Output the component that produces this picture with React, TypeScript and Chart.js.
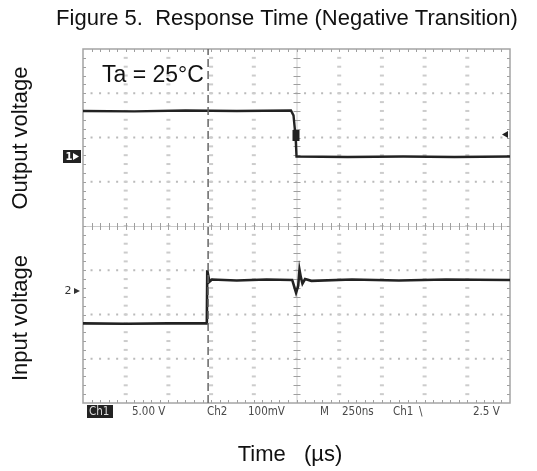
import React, { useEffect, useRef } from "react";
import { Chart, registerables } from "chart.js";

Chart.register(...registerables);

// Time axis in scope divisions (250 ns/div, 10 divisions)
const outputTime = [0, 1.2, 2.4, 3.6, 4.87, 4.93, 4.98, 5.0, 6.2, 7.5, 8.7, 10];
// Output voltage trace, in divisions from screen centre (Ch1 5.00 V/div)
const outputLevel = [2.6, 2.59, 2.61, 2.6, 2.61, 2.5, 2.0, 1.57, 1.56, 1.57, 1.56, 1.57];

const inputTime = [0, 1.0, 2.0, 2.9, 2.91, 2.96, 3.02, 3.6, 4.3, 4.9, 4.95, 4.99, 5.04, 5.07, 5.1, 5.14, 5.2, 5.35, 6.3, 7.4, 8.5, 10];
// Input voltage trace, in divisions from screen centre (Ch2 100 mV/div)
const inputLevel = [-2.2, -2.21, -2.2, -2.2, -1.0, -1.26, -1.21, -1.23, -1.21, -1.22, -1.38, -1.51, -1.35, -0.99, -1.15, -1.3, -1.2, -1.24, -1.21, -1.23, -1.21, -1.22];

// Trigger cursor (dashed vertical line)
const cursorTime = [2.93, 2.93];
const cursorLevel = [-4, 4];

const titleText = "Figure 5.  Response Time (Negative Transition)";
const tempLabel = "Ta = 25°C";
const outputAxisLabel = "Output voltage";
const inputAxisLabel = "Input voltage";
const timeAxisLabel = "Time   (µs)";
const readoutLabels = ["Ch1", "5.00 V", "Ch2", "100mV", "M", "250ns", "Ch1", "\\", "2.5 V"];

const toPoints = (xs: number[], ys: number[]) => xs.map((x, i) => ({ x, y: ys[i] }));

const gridPlugin = {
  id: "scopeGrid",
  beforeDatasetsDraw(chart: any) {
    const { ctx, chartArea: a, scales } = chart;
    const x = scales.x;
    const y = scales.y;
    ctx.save();
    // dotted major horizontal lines
    ctx.fillStyle = "#bababa";
    for (let j = -3; j <= 3; j++) {
      if (j === 0) continue;
      const py = y.getPixelForValue(j);
      for (let m = 1; m < 50; m++) {
        const px = x.getPixelForValue(m * 0.2);
        ctx.fillRect(px - 1, py - 1, 2, 2);
      }
    }
    // dotted major vertical lines
    ctx.fillStyle = "#cccccc";
    for (let i = 1; i <= 9; i++) {
      if (i === 5) continue;
      const px = x.getPixelForValue(i);
      for (let m = 1; m < 40; m++) {
        const py = y.getPixelForValue(-4 + m * 0.2);
        ctx.fillRect(px - 2, py - 1, 4, 2);
      }
    }
    // centre lines
    const cx = x.getPixelForValue(5);
    const cy = y.getPixelForValue(0);
    ctx.strokeStyle = "#cccccc";
    ctx.lineWidth = 1;
    ctx.beginPath();
    ctx.moveTo(a.left, cy + 0.5);
    ctx.lineTo(a.right, cy + 0.5);
    ctx.moveTo(cx + 0.5, a.top);
    ctx.lineTo(cx + 0.5, a.bottom);
    ctx.stroke();
    ctx.strokeStyle = "#9f9f9f";
    ctx.beginPath();
    for (let m = 1; m < 50; m++) {
      const px = Math.round(x.getPixelForValue(m * 0.2)) + 0.5;
      ctx.moveTo(px, cy - 3);
      ctx.lineTo(px, cy + 4);
      ctx.moveTo(px, a.top);
      ctx.lineTo(px, a.top + 3);
      ctx.moveTo(px, a.bottom);
      ctx.lineTo(px, a.bottom - 3);
    }
    for (let m = 1; m < 40; m++) {
      const py = Math.round(y.getPixelForValue(-4 + m * 0.2)) + 0.5;
      ctx.moveTo(cx - 3, py);
      ctx.lineTo(cx + 4, py);
      ctx.moveTo(a.left, py);
      ctx.lineTo(a.left + 3, py);
      ctx.moveTo(a.right, py);
      ctx.lineTo(a.right - 3, py);
    }
    ctx.stroke();
    // border
    ctx.strokeStyle = "#a4a4a4";
    ctx.lineWidth = 1.5;
    ctx.strokeRect(a.left, a.top, a.right - a.left, a.bottom - a.top);
    ctx.restore();
  },
};

const textPlugin = {
  id: "scopeText",
  afterDraw(chart: any) {
    const { ctx, chartArea: a, scales } = chart;
    const x = scales.x;
    ctx.save();
    ctx.fillStyle = "#111";
    ctx.textBaseline = "middle";
    ctx.textAlign = "center";
    ctx.font = '22px "Liberation Sans", Arial, sans-serif';
    ctx.fillText(titleText, 287, 19);
    ctx.fillText(timeAxisLabel, 290, 455);

    ctx.textAlign = "left";
    ctx.font = '23px "Liberation Sans", Arial, sans-serif';
    ctx.fillText(tempLabel, 102, 76);

    ctx.font = '22px "Liberation Sans", Arial, sans-serif';
    ctx.textAlign = "center";
    ctx.save();
    ctx.translate(21, 138);
    ctx.rotate(-Math.PI / 2);
    ctx.fillText(outputAxisLabel, 0, 0);
    ctx.restore();
    ctx.save();
    ctx.translate(21, 318);
    ctx.rotate(-Math.PI / 2);
    ctx.fillText(inputAxisLabel, 0, 0);
    ctx.restore();

    // channel markers
    ctx.fillStyle = "#222";
    ctx.fillRect(63, 150, 18, 13);
    ctx.fillStyle = "#fff";
    ctx.font = 'bold 10px "DejaVu Sans", sans-serif';
    ctx.textAlign = "center";
    ctx.fillText("1", 69, 157);
    ctx.beginPath();
    ctx.moveTo(73, 153);
    ctx.lineTo(79, 156.5);
    ctx.lineTo(73, 160);
    ctx.fill();
    ctx.fillStyle = "#333";
    ctx.font = '11px "DejaVu Sans", sans-serif';
    ctx.fillText("2", 68, 291);
    ctx.beginPath();
    ctx.moveTo(74, 288);
    ctx.lineTo(80, 291);
    ctx.lineTo(74, 294);
    ctx.fill();

    // trigger markers
    ctx.fillStyle = "#222";
    const tx = x.getPixelForValue(5);
    ctx.fillRect(tx - 4, 130, 7, 11);
    ctx.beginPath();
    ctx.moveTo(a.right - 2, 131);
    ctx.lineTo(a.right - 8, 134.5);
    ctx.lineTo(a.right - 2, 138);
    ctx.fill();

    // readout
    const ry = 412;
    ctx.fillStyle = "#222";
    ctx.fillRect(87, 405, 26, 13);
    ctx.font = '11.5px "DejaVu Sans Condensed", "DejaVu Sans", sans-serif';
    ctx.textAlign = "left";
    ctx.fillStyle = "#ddd";
    ctx.fillText(readoutLabels[0], 89, ry);
    ctx.fillStyle = "#4a4a4a";
    const rx = [132, 207, 248, 320, 342, 393, 419, 473];
    for (let i = 1; i < readoutLabels.length; i++) {
      ctx.fillText(readoutLabels[i], rx[i - 1], ry);
    }
    ctx.restore();
  },
};

export default function App() {
  const ref = useRef<HTMLCanvasElement | null>(null);
  useEffect(() => {
    if (!ref.current) return;
    const chart = new Chart(ref.current, {
      type: "line",
      data: {
        datasets: [
          {
            data: toPoints(cursorTime, cursorLevel),
            borderColor: "#666",
            borderWidth: 1.5,
            borderDash: [8, 4],
            pointRadius: 0,
          },
          {
            data: toPoints(outputTime, outputLevel),
            borderColor: "#222",
            borderWidth: 2.4,
            pointRadius: 0,
            tension: 0,
          },
          {
            data: toPoints(inputTime, inputLevel),
            borderColor: "#222",
            borderWidth: 2.6,
            pointRadius: 0,
            tension: 0,
          },
        ],
      },
      options: {
        animation: false,
        responsive: false,
        events: [],
        layout: { padding: { left: 83, right: 27, top: 49, bottom: 68 } },
        scales: {
          x: { type: "linear", min: 0, max: 10, display: false },
          y: { type: "linear", min: -4, max: 4, display: false },
        },
        plugins: {
          legend: { display: false },
          tooltip: { enabled: false },
          title: { display: false },
        },
      },
      plugins: [gridPlugin, textPlugin],
    } as any);
    return () => chart.destroy();
  }, []);
  return (
    <div style={{ position: "absolute", left: 0, top: 0, width: 537, height: 471, background: "#fff" }}>
      <canvas ref={ref} width={537} height={471} style={{ display: "block" }} />
    </div>
  );
}
